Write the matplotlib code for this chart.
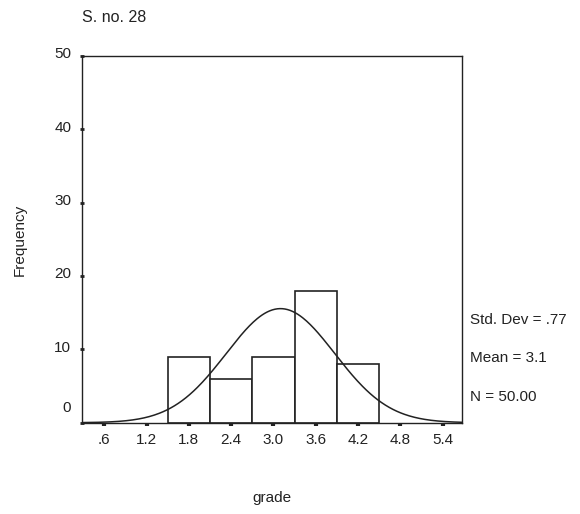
import numpy as np
import matplotlib
matplotlib.use("Agg")
import matplotlib.pyplot as plt
from matplotlib.transforms import ScaledTranslation

# histograma de notas (SPSS)
bin_centers = [1.8, 2.4, 3.0, 3.6, 4.2]
counts = [9, 6, 9, 18, 8]
bin_width = 0.6
x_ticks = [0.6, 1.2, 1.8, 2.4, 3.0, 3.6, 4.2, 4.8, 5.4]
x_labels = [".6", "1.2", "1.8", "2.4", "3.0", "3.6", "4.2", "4.8", "5.4"]
y_ticks = [0, 10, 20, 30, 40, 50]
mean, sd, n = 3.1, 0.77, 50

plt.rcParams["font.family"] = ["Liberation Sans", "DejaVu Sans"]
INK = "#222222"
FS = 11

fig = plt.figure(figsize=(5.8, 5.14), dpi=100)
ax = fig.add_axes([0.1409, 0.1776, 0.655, 0.714])

ax.bar(bin_centers, counts, width=bin_width, color="white",
       edgecolor=INK, linewidth=1.2, zorder=2)

# curva normal ajustada con media, desviacion y N
xs = np.linspace(0.28, 5.67, 300)
ys = n * bin_width / (sd * np.sqrt(2 * np.pi)) * np.exp(-0.5 * ((xs - mean) / sd) ** 2)
ax.plot(xs, ys, color=INK, linewidth=1.1, zorder=3)

ax.set_xlim(0.28, 5.67)
ax.set_ylim(0, 50)
for s in ax.spines.values():
    s.set_color(INK); s.set_linewidth(1.0)

ax.set_xticks(x_ticks, x_labels)
ax.set_yticks(y_ticks, [str(v) for v in y_ticks])
ax.tick_params(axis="x", direction="out", length=2.5, width=3, color=INK,
               labelsize=FS, pad=5, labelcolor=INK)
ax.tick_params(axis="y", direction="inout", length=3, width=2, color=INK,
               labelsize=FS, pad=6, labelcolor=INK)
for lab in ax.get_yticklabels():
    dy = 16 if lab.get_text() == "0" else 3
    lab.set_transform(lab.get_transform() + ScaledTranslation(0, dy / 100, fig.dpi_scale_trans))

fig.text(20 / 580, 1 - 240 / 514, "Frequency", fontsize=FS, color=INK,
         rotation=90, ha="center", va="center")
fig.text(272 / 580, 1 - 498 / 514, "grade", fontsize=FS, color=INK,
         ha="center", va="center")
fig.text(82 / 580, 1 - 18 / 514, "S. no. 28", fontsize=11.5, color=INK, va="center")

stats = ["Std. Dev = .77", "Mean = 3.1", "N = 50.00"]
for i, t in enumerate(stats):
    fig.text(470 / 580, 1 - (320 + 38.5 * i) / 514, t, fontsize=FS,
             color=INK, va="center")

fig.savefig("out.png", dpi=100, facecolor="white")
